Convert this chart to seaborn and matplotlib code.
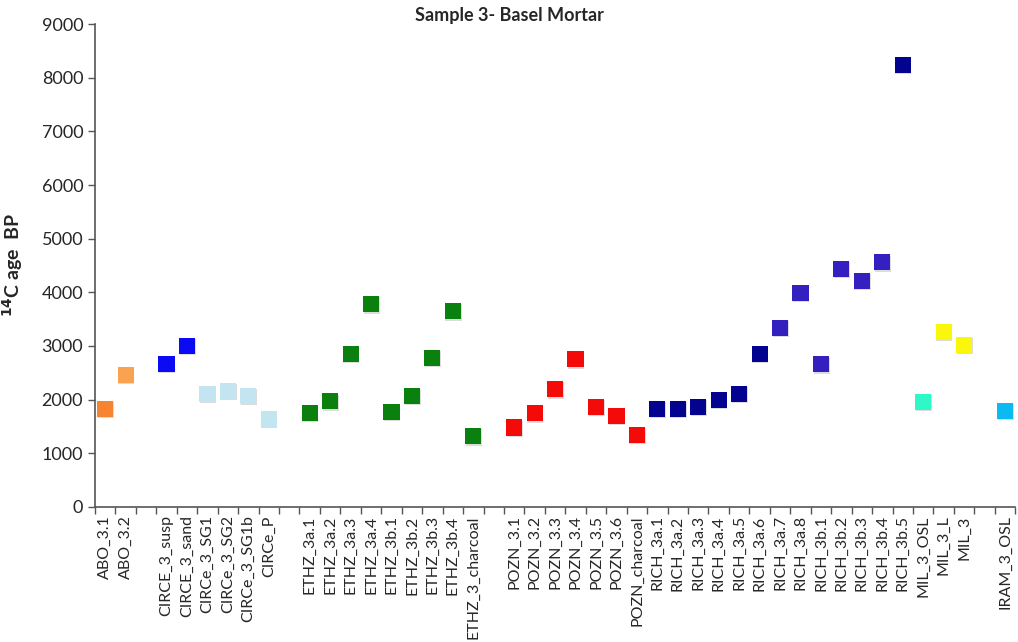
import pandas as pd
import matplotlib
matplotlib.use("Agg")
import matplotlib.pyplot as plt
import seaborn as sns

# category axis, "" = empty slot between labs
labels = ["ABO_3.1", "ABO_3.2", "",
          "CIRCE_3_susp", "CIRCE_3_sand", "CIRCe_3_SG1", "CIRCe_3_SG2", "CIRCe_3_SG1b", "CIRCe_P", "",
          "ETHZ_3a.1", "ETHZ_3a.2", "ETHZ_3a.3", "ETHZ_3a.4", "ETHZ_3b.1", "ETHZ_3b.2", "ETHZ_3b.3",
          "ETHZ_3b.4", "ETHZ_3_charcoal", "",
          "POZN_3.1", "POZN_3.2", "POZN_3.3", "POZN_3.4", "POZN_3.5", "POZN_3.6", "POZN_charcoal",
          "RICH_3a.1", "RICH_3a.2", "RICH_3a.3", "RICH_3a.4", "RICH_3a.5", "RICH_3a.6", "RICH_3a.7",
          "RICH_3a.8", "RICH_3b.1", "RICH_3b.2", "RICH_3b.3", "RICH_3b.4", "RICH_3b.5",
          "MIL_3_OSL", "MIL_3_L", "MIL_3", "", "IRAM_3_OSL"]

samples = ["ABO_3.1", "ABO_3.2",
           "CIRCE_3_susp", "CIRCE_3_sand", "CIRCe_3_SG1", "CIRCe_3_SG2", "CIRCe_3_SG1b", "CIRCe_P",
           "ETHZ_3a.1", "ETHZ_3a.2", "ETHZ_3a.3", "ETHZ_3a.4", "ETHZ_3b.1", "ETHZ_3b.2", "ETHZ_3b.3",
           "ETHZ_3b.4", "ETHZ_3_charcoal",
           "POZN_3.1", "POZN_3.2", "POZN_3.3", "POZN_3.4", "POZN_3.5", "POZN_3.6", "POZN_charcoal",
           "RICH_3a.1", "RICH_3a.2", "RICH_3a.3", "RICH_3a.4", "RICH_3a.5", "RICH_3a.6", "RICH_3a.7",
           "RICH_3a.8", "RICH_3b.1", "RICH_3b.2", "RICH_3b.3", "RICH_3b.4", "RICH_3b.5",
           "MIL_3_OSL", "MIL_3_L", "MIL_3", "IRAM_3_OSL"]

ages = [1825, 2460,
        2670, 3000, 2105, 2160, 2070, 1640,
        1750, 1970, 2850, 3780, 1770, 2070, 2780, 3650, 1320,
        1480, 1745, 2195, 2755, 1870, 1700, 1340,
        1825, 1825, 1870, 1995, 2105, 2855, 3340, 3995, 2660, 4435, 4215, 4560, 8240,
        1960, 3260, 3020, 1790]

groups = ["abo1", "abo2",
          "circe", "circe", "circe_sg", "circe_sg", "circe_sg", "circe_sg",
          "ethz", "ethz", "ethz", "ethz", "ethz", "ethz", "ethz", "ethz", "ethz",
          "pozn", "pozn", "pozn", "pozn", "pozn", "pozn", "pozn",
          "rich_a", "rich_a", "rich_a", "rich_a", "rich_a", "rich_a", "rich_b", "rich_b",
          "rich_b", "rich_b", "rich_b", "rich_b", "rich_a",
          "mil_osl", "mil", "mil", "iram"]

colors = {"abo1": "#F7852F", "abo2": "#F9A24F", "circe": "#0A0AF5", "circe_sg": "#C3E5F2",
          "ethz": "#0A800F", "pozn": "#F50A0A", "rich_a": "#03038F", "rich_b": "#3320BE",
          "mil_osl": "#2EF7C8", "mil": "#FAF70A", "iram": "#0ABAF0"}

df = pd.DataFrame({"sample": samples, "age": ages, "group": groups})
df["pos"] = [labels.index(s) for s in df["sample"]]

sns.set_style("white")
plt.rcParams["font.family"] = ["Lato", "DejaVu Sans"]

fig = plt.figure(figsize=(10.18, 6.42), dpi=100)
ax = fig.add_axes([0.0933, 0.2103, 0.904, 0.7523])

# faint drop shadow, then the squares
sns.scatterplot(x=df["pos"] + 0.03, y=df["age"] - 25, color="#bbbbbb", marker="s",
                s=135, edgecolor="none", alpha=0.5, legend=False, ax=ax, zorder=2)
sns.scatterplot(data=df, x="pos", y="age", hue="group", palette=colors, marker="s",
                s=135, edgecolor="none", legend=False, ax=ax, zorder=3)

ax.set_xlim(-0.5, len(labels) - 0.5)
ax.set_ylim(0, 9000)
ax.set_yticks(range(0, 9001, 1000))
ax.set_xticks(range(len(labels)))
ax.set_xticklabels(labels, rotation=90, fontsize=11.5)
ax.set_xticks([i - 0.5 for i in range(len(labels) + 1)], minor=True)
ax.tick_params(axis="x", which="major", length=0, pad=6)
ax.tick_params(axis="x", which="minor", length=5, width=1, color="#555555", direction="out")
ax.tick_params(axis="y", length=5, width=1, color="#555555", direction="out", labelsize=13)
ax.tick_params(bottom=True, left=True, which="both")

for side in ["top", "right"]:
    ax.spines[side].set_visible(False)
for side in ["left", "bottom"]:
    ax.spines[side].set_color("#555555")
    ax.spines[side].set_linewidth(1.2)

ax.set_xlabel("")
ax.set_ylabel("$\\mathbf{^{14}}$C age  BP", fontsize=14, fontweight="bold", labelpad=12)
fig.text(0.5, 0.976, "Sample 3- Basel Mortar", ha="center", va="center",
         fontsize=13, fontweight="bold")

fig.savefig("out.png", dpi=100)
